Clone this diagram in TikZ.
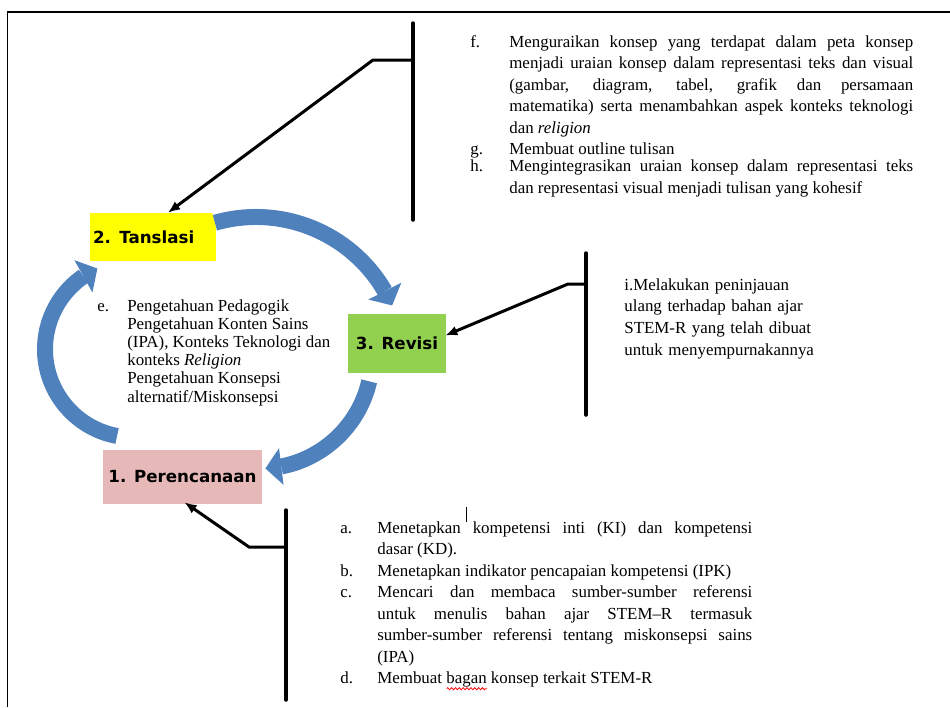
\documentclass[tikz,border=0pt]{standalone}
\usepackage{fontspec}
\setmainfont{Liberation Serif}
\newfontfamily\stagefont{DejaVu Sans}
\usepackage{array}
\usetikzlibrary{arrows.meta,bending,calc,positioning,decorations.pathmorphing}

\definecolor{tyellow}{HTML}{FFFF00}
\definecolor{rgreen}{HTML}{92D050}
\definecolor{ppink}{HTML}{E6B9B8}
\definecolor{cycblue}{HTML}{4F81BD}

\hyphenpenalty=10000
\exhyphenpenalty=10000
\tolerance=9999

\newlength{\wavewd}
\newcommand{\redwave}[1]{\settowidth{\wavewd}{#1}\rlap{\tikz[baseline=0pt]\draw[red, line width=0.45pt,
  decorate, decoration={zigzag, amplitude=0.6pt, segment length=2.2pt}] (0pt,-2.8pt) -- (\wavewd,-2.8pt);}#1}

\begin{document}
\begin{tikzpicture}[
    x=0.02cm, y=-0.02cm,
    stage/.style={inner sep=0pt, font=\stagefont\bfseries\fontsize{9.5pt}{11pt}\selectfont},
    cyc/.style={draw=cycblue, line width=0.32cm,
        -{Triangle[width=0.74cm,length=0.32cm,line width=0pt,flex]},
        preaction={draw=white, line width=0.40cm, arrows=-, shorten >=0.5cm}},
    brk/.style={line width=0.07cm, line cap=round},
    lnk/.style={line width=0.06cm, -{Latex[length=0.24cm,width=0.2cm]}},
    txt/.style={inner sep=0pt, anchor=base west,
        font=\fontsize{9.62pt}{12.26pt}\selectfont}
]
\useasboundingbox (0,0) rectangle (950,707);
% frame
\draw[line width=0.04cm] (7.5,707) -- (7.5,12) -- (950,12);

% stages
\node[stage, fill=tyellow, minimum width=2.52cm, minimum height=0.96cm,
      text width=2.40cm, align=left] (tans) at (153,237) {2. Tanslasi};
\node[stage, fill=rgreen, minimum width=1.96cm, minimum height=1.18cm] (rev) at (397,343.5) {3. Revisi};
\node[stage, fill=ppink, minimum width=3.18cm, minimum height=1.08cm] (per) at (182.5,477) {1. Perencanaan};

% cycle arrows
\coordinate (c1) at (256,366);
\coordinate (c2) at (259.5,356);
\coordinate (c3) at (133.3,349.2);
\draw[cyc] (c1) ++(-106:149) arc[start angle=-106, end angle=-24, radius=149];
\draw[cyc] (c2) ++(13:112.6) arc[start angle=13, end angle=87, radius=112.6];
\draw[cyc] (c3) ++(100.6:88.3) arc[start angle=100.6, end angle=246, radius=88.3];

% brackets to the stages
\coordinate (ftop) at (413,23);
\coordinate (fbot) at (413,220);
\coordinate (fjoin) at (413,60);
\coordinate (fknee) at (373,60);
\draw[brk] (ftop) -- (fbot);
\draw[lnk] (fjoin) -- (fknee) -- ($(tans.north)+(15,0)$);

\coordinate (itop) at (586,253);
\coordinate (ibot) at (586,415);
\coordinate (ijoin) at (586,284);
\coordinate (iknee) at (568,284);
\draw[brk] (itop) -- (ibot);
\draw[lnk] (ijoin) -- (iknee) -- ($(rev.east)+(-1,-8)$);

\coordinate (atop) at (286,510);
\coordinate (abot) at (286,700);
\coordinate (ajoin) at (286,547);
\coordinate (aknee) at (249,547);
\draw[brk] (atop) -- (abot);
\draw[lnk] (ajoin) -- (aknee) -- ($(per.south)+(2,-2)$);

% texts
\node[txt] (fgh) at (470,47) {\begin{tabular}[t]{@{}p{0.78cm}@{}p{8.08cm}@{}}
f. & Menguraikan konsep yang terdapat dalam peta konsep\linebreak
menjadi uraian konsep dalam representasi teks dan visual\linebreak
(gambar, diagram, tabel, grafik dan persamaan\linebreak
matematika) serta menambahkan aspek konteks teknologi\linebreak
dan \textit{religion}\\
g. & Membuat outline tulisan\\[-0.09cm]
h. & Mengintegrasikan uraian konsep dalam representasi teks\linebreak
dan representasi visual menjadi tulisan yang kohesif
\end{tabular}};

\node[txt, text width=4.2cm, align=left,
      font=\fontsize{9.62pt}{12.35pt}\selectfont] (rvtext) at (624,290)
  {i.Melakukan peninjauan\\ ulang terhadap bahan ajar\\
   STEM-R yang telah dibuat\\ untuk menyempurnakannya};

\node[txt, font=\fontsize{9.62pt}{10.36pt}\selectfont] (etext) at (97,311)
  {\begin{tabular}[t]{@{}p{0.6cm}@{}l@{}}
   e. & Pengetahuan Pedagogik\\
      & Pengetahuan Konten Sains\\
      & (IPA), Konteks Teknologi dan\\
      & konteks \textit{Religion}\\
      & Pengetahuan Konsepsi\\
      & alternatif/Miskonsepsi
   \end{tabular}};

\node[txt] (abcd) at (340,533) {\begin{tabular}[t]{@{}p{0.74cm}@{}p{7.5cm}@{}}
a. & Menetapkan\smash{\rlap{\hspace{2.8pt}\rule[6.3pt]{0.5pt}{8.5pt}}} kompetensi inti (KI) dan kompetensi\linebreak
dasar (KD).\\
b. & Menetapkan indikator pencapaian kompetensi (IPK)\\
c. & Mencari dan membaca sumber-sumber referensi\linebreak
untuk menulis bahan ajar STEM--R termasuk\linebreak
sumber-sumber referensi tentang miskonsepsi sains\linebreak
(IPA)\\
d. & Membuat \redwave{bagan} konsep terkait STEM-R
\end{tabular}};
\end{tikzpicture}
\end{document}
